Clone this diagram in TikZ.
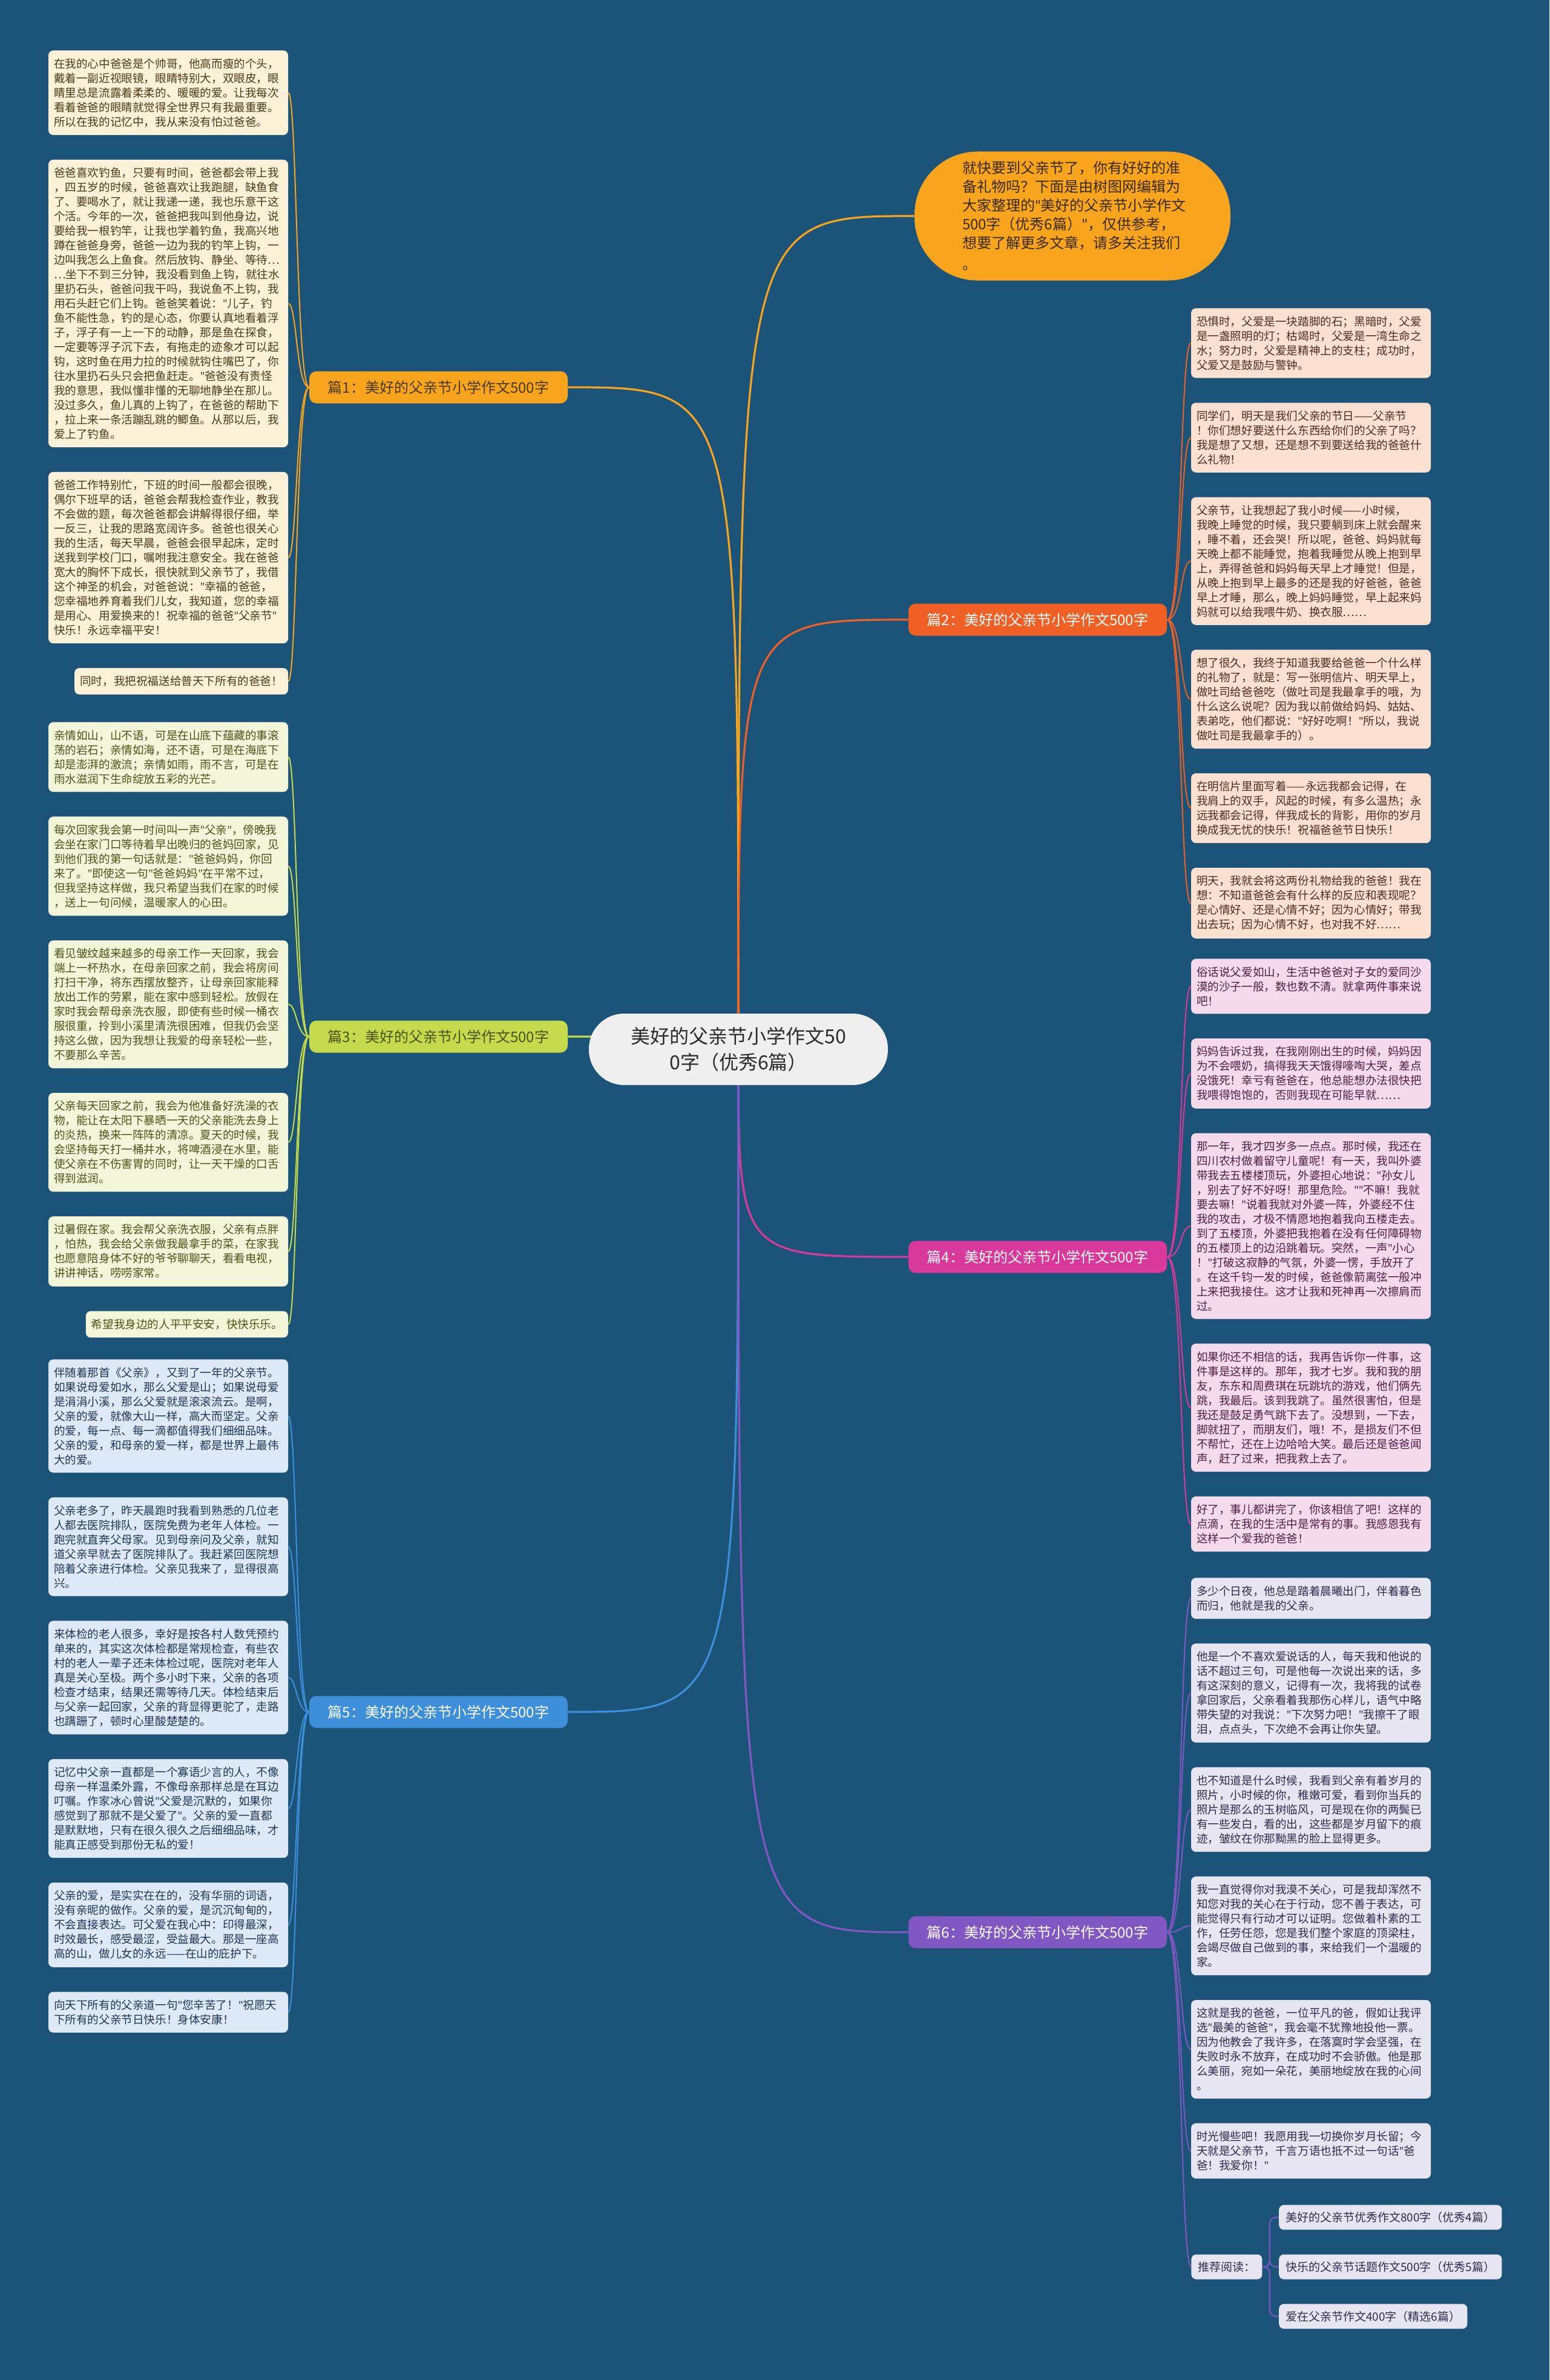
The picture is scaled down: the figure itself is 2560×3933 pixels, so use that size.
\documentclass[tikz,border=0pt]{standalone}
\usepackage{fontspec}
\setmainfont{Noto Sans CJK SC}
\newfontfamily\latinfont{Noto Sans}
\newcommand\qq{{\latinfont"}}
\usetikzlibrary{positioning,backgrounds}

\definecolor{bgblue}{HTML}{1B5478}
\definecolor{rootfill}{HTML}{EFEFEF}
\definecolor{rootink}{HTML}{2B2B2B}
\definecolor{orangeA}{HTML}{F8A51D}
\definecolor{orangeB}{HTML}{F05F24}
\definecolor{limeC}{HTML}{C5DA4B}
\definecolor{pinkD}{HTML}{D8399A}
\definecolor{blueE}{HTML}{3D8FDA}
\definecolor{purpleF}{HTML}{8057C3}
\definecolor{fillA}{HTML}{FDF1D8}
\definecolor{fillB}{HTML}{FDE1D0}
\definecolor{fillC}{HTML}{F4F6D9}
\definecolor{fillD}{HTML}{F5DAEC}
\definecolor{fillE}{HTML}{DDE9F6}
\definecolor{fillF}{HTML}{E8E5F2}
\definecolor{inkA}{HTML}{4B3A17}
\definecolor{inkB}{HTML}{4D2C1F}
\definecolor{inkC}{HTML}{4C5219}
\definecolor{inkD}{HTML}{4D1F40}
\definecolor{inkE}{HTML}{1F3552}
\definecolor{inkF}{HTML}{2E2B4D}
\definecolor{introink}{HTML}{3B2A0A}

\begin{document}
\begin{tikzpicture}[
  x=0.5pt, y=-0.5pt,
  root/.style={rectangle, rounded corners=29pt, fill=rootfill, text=rootink, align=center, minimum width=247pt, minimum height=59pt, font=\fontsize{16}{21.5}\selectfont},
  intro/.style={rectangle, rounded corners=52pt, fill=orangeA, text=introink, align=left, text width=182pt, minimum width=261pt, minimum height=106.5pt, inner sep=0pt, font=\fontsize{12}{15.5}\selectfont},
  chapter/.style={rectangle, rounded corners=6pt, minimum width=213.5pt, minimum height=26.5pt, font=\fontsize{12}{14}\selectfont},
  essaybase/.style={rectangle, rounded corners=4pt, align=left, anchor=north, inner xsep=4.5pt, inner ysep=6.5pt, font=\fontsize{9.3}{12}\selectfont},
  essay/.style={essaybase, text width=189pt},
  readbox/.style={rectangle, rounded corners=4pt, fill=fillF, text=inkF, inner xsep=5.5pt, minimum height=20.5pt, font=\fontsize{9.5}{11}\selectfont},
  grpA/.style={fill=fillA, text=inkA},
  grpB/.style={fill=fillB, text=inkB},
  grpC/.style={fill=fillC, text=inkC},
  grpD/.style={fill=fillD, text=inkD},
  grpE/.style={fill=fillE, text=inkE},
  grpF/.style={fill=fillF, text=inkF},
  branch/.style={line width=1.6pt},
  twig/.style={line width=1pt}
]
\useasboundingbox (0,0) rectangle (2560,3933);

% centre and intro bubble
\node[root] (title) at (1220,1734) {美好的父亲节小学作文50\\0字（优秀6篇）};
\node[intro] (lead) at (1772,357) {就快要到父亲节了，你有好好的准\\
备礼物吗？下面是由树图网编辑为\\
大家整理的\qq{}美好的父亲节小学作文\\
500字（优秀6篇）\qq{}，仅供参考，\\
想要了解更多文章，请多关注我们\\[2pt]
。};

% chapter labels
\node[chapter, fill=orangeA, text=inkA] (pian1) at (724.5,640) {篇1：美好的父亲节小学作文500字};
\node[chapter, fill=orangeB, text=white] (pian2) at (1714.5,1024) {篇2：美好的父亲节小学作文500字};
\node[chapter, fill=limeC, text=inkC] (pian3) at (724.5,1713) {篇3：美好的父亲节小学作文500字};
\node[chapter, fill=pinkD, text=white] (pian4) at (1714.5,2077) {篇4：美好的父亲节小学作文500字};
\node[chapter, fill=blueE, text=white] (pian5) at (724.5,2829) {篇5：美好的父亲节小学作文500字};
\node[chapter, fill=purpleF, text=white] (pian6) at (1714.5,3193) {篇6：美好的父亲节小学作文500字};

% 篇1
\node[essay, grpA] (p1a) at (278,83) {在我的心中爸爸是个帅哥，他高而瘦的个头，\\
戴着一副近视眼镜，眼睛特别大，双眼皮，眼\\
睛里总是流露着柔柔的、暖暖的爱。让我每次\\
看着爸爸的眼睛就觉得全世界只有我最重要。\\
所以在我的记忆中，我从来没有怕过爸爸。};
\node[essay, grpA, below=20pt of p1a] (p1b) {爸爸喜欢钓鱼，只要有时间，爸爸都会带上我\\
，四五岁的时候，爸爸喜欢让我跑腿，缺鱼食\\
了、要喝水了，就让我递一递，我也乐意干这\\
个活。今年的一次，爸爸把我叫到他身边，说\\
要给我一根钓竿，让我也学着钓鱼，我高兴地\\
蹲在爸爸身旁，爸爸一边为我的钓竿上钩，一\\
边叫我怎么上鱼食。然后放钩、静坐、等待…\\
…坐下不到三分钟，我没看到鱼上钩，就往水\\
里扔石头，爸爸问我干吗，我说鱼不上钩，我\\
用石头赶它们上钩。爸爸笑着说：\qq{}儿子，钓\\
鱼不能性急，钓的是心态，你要认真地看着浮\\
子，浮子有一上一下的动静，那是鱼在探食，\\
一定要等浮子沉下去，有拖走的迹象才可以起\\
钩，这时鱼在用力拉的时候就钩住嘴巴了，你\\
往水里扔石头只会把鱼赶走。\qq{}爸爸没有责怪\\
我的意思，我似懂非懂的无聊地静坐在那儿。\\
没过多久，鱼儿真的上钩了，在爸爸的帮助下\\
，拉上来一条活蹦乱跳的鲫鱼。从那以后，我\\
爱上了钓鱼。};
\node[essay, grpA, below=20pt of p1b] (p1c) {爸爸工作特别忙，下班的时间一般都会很晚，\\
偶尔下班早的话，爸爸会帮我检查作业，教我\\
不会做的题，每次爸爸都会讲解得很仔细，举\\
一反三，让我的思路宽阔许多。爸爸也很关心\\
我的生活，每天早晨，爸爸会很早起床，定时\\
送我到学校门口，嘱咐我注意安全。我在爸爸\\
宽大的胸怀下成长，很快就到父亲节了，我借\\
这个神圣的机会，对爸爸说：\qq{}幸福的爸爸，\\
您幸福地养育着我们儿女，我知道，您的幸福\\
是用心、用爱换来的！祝幸福的爸爸\qq{}父亲节\qq{}\\
快乐！永远幸福平安！};
\node[essaybase, grpA, below left=20pt and 0pt of p1c.south east] (p1d) {同时，我把祝福送给普天下所有的爸爸！};

% 篇3
\node[essay, grpC] (p3a) at (278,1193) {亲情如山，山不语，可是在山底下蕴藏的事滚\\
荡的岩石；亲情如海，还不语，可是在海底下\\
却是澎湃的激流；亲情如雨，雨不言，可是在\\
雨水滋润下生命绽放五彩的光芒。};
\node[essay, grpC, below=20pt of p3a] (p3b) {每次回家我会第一时间叫一声\qq{}父亲\qq{}，傍晚我\\
会坐在家门口等待着早出晚归的爸妈回家，见\\
到他们我的第一句话就是：\qq{}爸爸妈妈，你回\\
来了。\qq{}即使这一句\qq{}爸爸妈妈\qq{}在平常不过，\\
但我坚持这样做，我只希望当我们在家的时候\\
，送上一句问候，温暖家人的心田。};
\node[essay, grpC, below=20pt of p3b] (p3c) {看见皱纹越来越多的母亲工作一天回家，我会\\
端上一杯热水，在母亲回家之前，我会将房间\\
打扫干净，将东西摆放整齐，让母亲回家能释\\
放出工作的劳累，能在家中感到轻松。放假在\\
家时我会帮母亲洗衣服，即使有些时候一桶衣\\
服很重，拎到小溪里清洗很困难，但我仍会坚\\
持这么做，因为我想让我爱的母亲轻松一些，\\
不要那么辛苦。};
\node[essay, grpC, below=20pt of p3c] (p3d) {父亲每天回家之前，我会为他准备好洗澡的衣\\
物，能让在太阳下暴晒一天的父亲能洗去身上\\
的炎热，换来一阵阵的清凉。夏天的时候，我\\
会坚持每天打一桶井水，将啤酒浸在水里，能\\
使父亲在不伤害胃的同时，让一天干燥的口舌\\
得到滋润。};
\node[essay, grpC, below=20pt of p3d] (p3e) {过暑假在家。我会帮父亲洗衣服，父亲有点胖\\
，怕热，我会给父亲做我最拿手的菜，在家我\\
也愿意陪身体不好的爷爷聊聊天，看看电视，\\
讲讲神话，唠唠家常。};
\node[essaybase, grpC, below left=20pt and 0pt of p3e.south east] (p3f) {希望我身边的人平平安安，快快乐乐。};

% 篇5
\node[essay, grpE] (p5a) at (278,2246) {伴随着那首《父亲》，又到了一年的父亲节。\\
如果说母爱如水，那么父爱是山；如果说母爱\\
是涓涓小溪，那么父爱就是滚滚流云。是啊，\\
父亲的爱，就像大山一样，高大而坚定。父亲\\
的爱，每一点、每一滴都值得我们细细品味。\\
父亲的爱，和母亲的爱一样，都是世界上最伟\\
大的爱。};
\node[essay, grpE, below=20pt of p5a] (p5b) {父亲老多了，昨天晨跑时我看到熟悉的几位老\\
人都去医院排队，医院免费为老年人体检。一\\
跑完就直奔父母家。见到母亲问及父亲，就知\\
道父亲早就去了医院排队了。我赶紧回医院想\\
陪着父亲进行体检。父亲见我来了，显得很高\\
兴。};
\node[essay, grpE, below=20pt of p5b] (p5c) {来体检的老人很多，幸好是按各村人数凭预约\\
单来的，其实这次体检都是常规检查，有些农\\
村的老人一辈子还未体检过呢，医院对老年人\\
真是关心至极。两个多小时下来，父亲的各项\\
检查才结束，结果还需等待几天。体检结束后\\
与父亲一起回家，父亲的背显得更驼了，走路\\
也蹒跚了，顿时心里酸楚楚的。};
\node[essay, grpE, below=20pt of p5c] (p5d) {记忆中父亲一直都是一个寡语少言的人，不像\\
母亲一样温柔外露，不像母亲那样总是在耳边\\
叮嘱。作家冰心曾说\qq{}父爱是沉默的，如果你\\
感觉到了那就不是父爱了\qq{}。父亲的爱一直都\\
是默默地，只有在很久很久之后细细品味，才\\
能真正感受到那份无私的爱！};
\node[essay, grpE, below=20pt of p5d] (p5e) {父亲的爱，是实实在在的，没有华丽的词语，\\
没有亲昵的做作。父亲的爱，是沉沉甸甸的，\\
不会直接表达。可父爱在我心中：印得最深，\\
时效最长，感受最涩，受益最大。那是一座高\\
高的山，做儿女的永远——在山的庇护下。};
\node[essay, grpE, below=20pt of p5e] (p5f) {向天下所有的父亲道一句\qq{}您辛苦了！\qq{}祝愿天\\
下所有的父亲节日快乐！身体安康！};

% 篇2
\node[essay, grpB] (p2a) at (2166,509) {恐惧时，父爱是一块踏脚的石；黑暗时，父爱\\
是一盏照明的灯；枯竭时，父爱是一湾生命之\\
水；努力时，父爱是精神上的支柱；成功时，\\
父爱又是鼓励与警钟。};
\node[essay, grpB, below=20pt of p2a] (p2b) {同学们，明天是我们父亲的节日——父亲节\\
！你们想好要送什么东西给你们的父亲了吗？\\
我是想了又想，还是想不到要送给我的爸爸什\\
么礼物！};
\node[essay, grpB, below=20pt of p2b] (p2c) {父亲节，让我想起了我小时候——小时候，\\
我晚上睡觉的时候，我只要躺到床上就会醒来\\
，睡不着，还会哭！所以呢，爸爸、妈妈就每\\
天晚上都不能睡觉，抱着我睡觉从晚上抱到早\\
上，弄得爸爸和妈妈每天早上才睡觉！但是，\\
从晚上抱到早上最多的还是我的好爸爸，爸爸\\
早上才睡，那么，晚上妈妈睡觉，早上起来妈\\
妈就可以给我喂牛奶、换衣服……};
\node[essay, grpB, below=20pt of p2c] (p2d) {想了很久，我终于知道我要给爸爸一个什么样\\
的礼物了，就是：写一张明信片、明天早上，\\
做吐司给爸爸吃（做吐司是我最拿手的哦，为\\
什么这么说呢？因为我以前做给妈妈、姑姑、\\
表弟吃，他们都说：\qq{}好好吃啊！\qq{}所以，我说\\
做吐司是我最拿手的）。};
\node[essay, grpB, below=20pt of p2d] (p2e) {在明信片里面写着——永远我都会记得，在\\
我肩上的双手，风起的时候，有多么温热；永\\
远我都会记得，伴我成长的背影，用你的岁月\\
换成我无忧的快乐！祝福爸爸节日快乐！};
\node[essay, grpB, below=20pt of p2e] (p2f) {明天，我就会将这两份礼物给我的爸爸！我在\\
想：不知道爸爸会有什么样的反应和表现呢？\\
是心情好、还是心情不好；因为心情好；带我\\
出去玩；因为心情不好，也对我不好……};

% 篇4
\node[essay, grpD] (p4a) at (2166,1584) {俗话说父爱如山，生活中爸爸对子女的爱同沙\\
漠的沙子一般，数也数不清。就拿两件事来说\\
吧！};
\node[essay, grpD, below=20pt of p4a] (p4b) {妈妈告诉过我，在我刚刚出生的时候，妈妈因\\
为不会喂奶，搞得我天天饿得嚎啕大哭，差点\\
没饿死！幸亏有爸爸在，他总能想办法很快把\\
我喂得饱饱的，否则我现在可能早就……};
\node[essay, grpD, below=20pt of p4b] (p4c) {那一年，我才四岁多一点点。那时候，我还在\\
四川农村做着留守儿童呢！有一天，我叫外婆\\
带我去五楼楼顶玩，外婆担心地说：\qq{}孙女儿\\
，别去了好不好呀！那里危险。\qq{}\qq{}不嘛！我就\\
要去嘛！\qq{}说着我就对外婆一阵，外婆经不住\\
我的攻击，才极不情愿地抱着我向五楼走去。\\
到了五楼顶，外婆把我抱着在没有任何障碍物\\
的五楼顶上的边沿跳着玩。突然，一声\qq{}小心\\
！\qq{}打破这寂静的气氛，外婆一愣，手放开了\\
。在这千钧一发的时候，爸爸像箭离弦一般冲\\
上来把我接住。这才让我和死神再一次擦肩而\\
过。};
\node[essay, grpD, below=20pt of p4c] (p4d) {如果你还不相信的话，我再告诉你一件事，这\\
件事是这样的。那年，我才七岁。我和我的朋\\
友，东东和周费琪在玩跳坑的游戏，他们俩先\\
跳，我最后。该到我跳了。虽然很害怕，但是\\
我还是鼓足勇气跳下去了。没想到，一下去，\\
脚就扭了，而朋友们，哦！不，是损友们不但\\
不帮忙，还在上边哈哈大笑。最后还是爸爸闻\\
声，赶了过来，把我救上去了。};
\node[essay, grpD, below=20pt of p4d] (p4e) {好了，事儿都讲完了，你该相信了吧！这样的\\
点滴，在我的生活中是常有的事。我感恩我有\\
这样一个爱我的爸爸！};

% 篇6
\node[essay, grpF] (p6a) at (2166,2607) {多少个日夜，他总是踏着晨曦出门，伴着暮色\\
而归，他就是我的父亲。};
\node[essay, grpF, below=20pt of p6a] (p6b) {他是一个不喜欢爱说话的人，每天我和他说的\\
话不超过三句，可是他每一次说出来的话，多\\
有这深刻的意义，记得有一次，我将我的试卷\\
拿回家后，父亲看着我那伤心样儿，语气中略\\
带失望的对我说：\qq{}下次努力吧！\qq{}我擦干了眼\\
泪，点点头，下次绝不会再让你失望。};
\node[essay, grpF, below=20pt of p6b] (p6c) {也不知道是什么时候，我看到父亲有着岁月的\\
照片，小时候的你，稚嫩可爱，看到你当兵的\\
照片是那么的玉树临风，可是现在你的两鬓已\\
有一些发白，看的出，这些都是岁月留下的痕\\
迹，皱纹在你那黝黑的脸上显得更多。};
\node[essay, grpF, below=20pt of p6c] (p6d) {我一直觉得你对我漠不关心，可是我却浑然不\\
知您对我的关心在于行动，您不善于表达，可\\
能觉得只有行动才可以证明。您做着朴素的工\\
作，任劳任怨，您是我们整个家庭的顶梁柱，\\
会竭尽做自己做到的事，来给我们一个温暖的\\
家。};
\node[essay, grpF, below=20pt of p6d] (p6e) {这就是我的爸爸，一位平凡的爸，假如让我评\\
选\qq{}最美的爸爸\qq{}，我会毫不犹豫地投他一票。\\
因为他教会了我许多，在落寞时学会坚强，在\\
失败时永不放弃，在成功时不会骄傲。他是那\\
么美丽，宛如一朵花，美丽地绽放在我的心间\\
。};
\node[essay, grpF, below=20pt of p6e] (p6f) {时光慢些吧！我愿用我一切换你岁月长留；今\\
天就是父亲节，千言万语也抵不过一句话\qq{}爸\\
爸！我爱你！\qq{}};

% further reading
\node[readbox, anchor=west] (recommend) at (1968,3746) {推荐阅读：};
\node[readbox, right=13.5pt of recommend] (rec2) {快乐的父亲节话题作文500字（优秀5篇）};
\node[readbox, above right=20pt and 0pt of rec2.north west] (rec1) {美好的父亲节优秀作文800字（优秀4篇）};
\node[readbox, below right=20pt and 0pt of rec2.south west] (rec3) {爱在父亲节作文400字（精选6篇）};

\begin{scope}[on background layer]
  \fill[bgblue] (0,0) rectangle (2560,3933);

  % main branches
  \draw[branch, orangeA] (title.center) .. controls (title.center |- lead.west) .. (lead.west);
  \draw[branch, orangeA] (title.center) .. controls (title.center |- pian1.east) .. (pian1.east);
  \draw[branch, orangeB] (title.center) .. controls (title.center |- pian2.west) .. (pian2.west);
  \draw[branch, limeC] (title.center) .. controls (title.center |- pian3.east) .. (pian3.east);
  \draw[branch, pinkD] (title.center) .. controls (title.center |- pian4.west) .. (pian4.west);
  \draw[branch, blueE] (title.center) .. controls (title.center |- pian5.east) .. (pian5.east);
  \draw[branch, purpleF] (title.center) .. controls (title.center |- pian6.west) .. (pian6.west);

  % left twigs
  \foreach \nd in {p1a,p1b,p1c,p1d}
    \draw[twig, orangeA] (pian1.west) .. controls +(-21,0) and +(14,0) .. (\nd.east);
  \foreach \nd in {p3a,p3b,p3c,p3d,p3e,p3f}
    \draw[twig, limeC] (pian3.west) .. controls +(-21,0) and +(14,0) .. (\nd.east);
  \foreach \nd in {p5a,p5b,p5c,p5d,p5e,p5f}
    \draw[twig, blueE] (pian5.west) .. controls +(-21,0) and +(14,0) .. (\nd.east);

  % right twigs
  \foreach \nd in {p2a,p2b,p2c,p2d,p2e,p2f}
    \draw[twig, orangeB] (pian2.east) .. controls +(25,0) and +(-18,0) .. (\nd.west);
  \foreach \nd in {p4a,p4b,p4c,p4d,p4e}
    \draw[twig, pinkD] (pian4.east) .. controls +(25,0) and +(-18,0) .. (\nd.west);
  \foreach \nd in {p6a,p6b,p6c,p6d,p6e,p6f,recommend}
    \draw[twig, purpleF] (pian6.east) .. controls +(25,0) and +(-18,0) .. (\nd.west);

  \foreach \nd in {rec1,rec2,rec3}
    \draw[twig, purpleF, rounded corners=5pt] (recommend.east) -- ++(12,0) |- (\nd.west);
\end{scope}
\end{tikzpicture}
\end{document}
